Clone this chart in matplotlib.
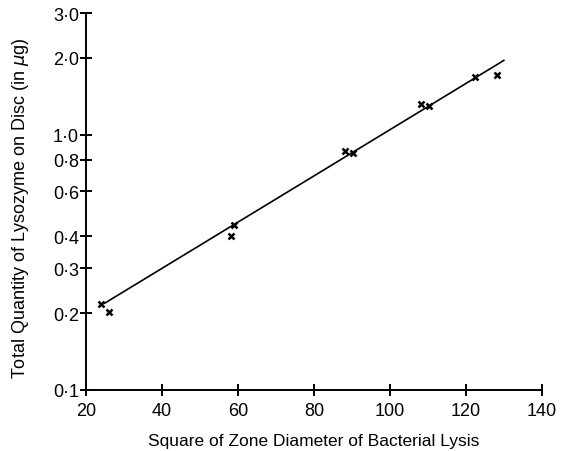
import matplotlib
matplotlib.use("Agg")
import matplotlib.pyplot as plt
from matplotlib.ticker import FixedLocator, NullLocator

plt.rcParams["font.family"] = ["Liberation Sans", "DejaVu Sans"]

# measured points: square of zone diameter vs lysozyme quantity (ug)
zone_sq = [23.9, 26.1, 58.3, 58.9, 88.2, 90.2, 108.1, 110.3, 122.4, 128.1]
lysozyme = [0.217, 0.203, 0.403, 0.444, 0.86, 0.85, 1.32, 1.30, 1.68, 1.71]

# fitted line as drawn
fit_x = [25, 130]
fit_y = [0.219, 1.956]

x_ticks = [20, 40, 60, 80, 100, 120, 140]
y_ticks = [0.1, 0.2, 0.3, 0.4, 0.6, 0.8, 1.0, 2.0, 3.0]
y_labels = ["0·1", "0·2", "0·3", "0·4", "0·6", "0·8", "1·0", "2·0", "3·0"]

fig = plt.figure(figsize=(5.65, 4.52), dpi=100)
ax = fig.add_axes([0.152, 0.135, 0.807, 0.834])

ax.plot(fit_x, fit_y, color="black", linewidth=1.2)
ax.plot(zone_sq, lysozyme, linestyle="none", marker="x", color="black",
        markersize=4.5, markeredgewidth=1.8)

ax.set_yscale("log")
ax.set_xlim(20, 140)
ax.set_ylim(0.1, 3.0)

ax.xaxis.set_major_locator(FixedLocator(x_ticks))
ax.yaxis.set_major_locator(FixedLocator(y_ticks))
ax.yaxis.set_minor_locator(NullLocator())
ax.set_yticklabels(y_labels)

for side in ("top", "right"):
    ax.spines[side].set_visible(False)
for side in ("left", "bottom"):
    ax.spines[side].set_linewidth(1.4)

ax.tick_params(axis="both", direction="inout", length=8, width=1.4, color="black")
ax.tick_params(axis="x", labelsize=13, pad=5)
ax.tick_params(axis="y", labelsize=13, pad=1)

ax.set_xlabel("Square of Zone Diameter of Bacterial Lysis", fontsize=12.5)
ax.set_ylabel(r"Total Quantity of Lysozyme on Disc (in $\mu$g)", fontsize=13)
ax.xaxis.set_label_coords(0.5, -0.115)
ax.yaxis.set_label_coords(-0.12, 0.485)

fig.savefig("out.png", dpi=100)
